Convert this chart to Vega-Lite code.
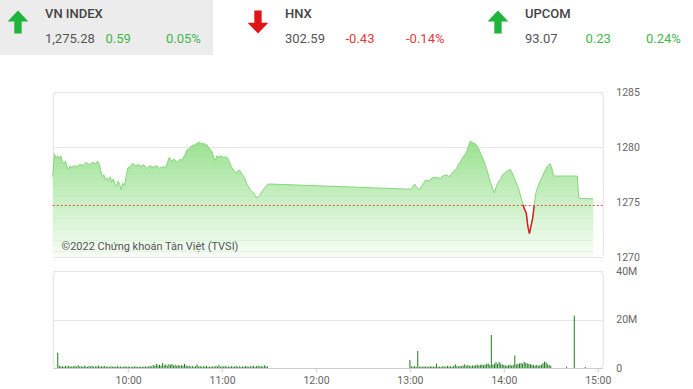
{
"$schema": "https://vega.github.io/schema/vega-lite/v6.json",
"padding": 0,
"background": "white",
"config": {"font": "Roboto", "view": {"stroke": null}},
"datasets": {
"header": [
{"idx":"VN INDEX","kind":"main","line":"top","text":"VN INDEX","dir":"up","tone":"label"},
{"idx":"VN INDEX","kind":"main","line":"bottom","text":"1,275.28","tone":"value"},
{"idx":"VN INDEX","kind":"change","line":"bottom","text":"0.59","tone":"up"},
{"idx":"VN INDEX","kind":"pct","line":"bottom","text":"0.05%","tone":"up"},
{"idx":"HNX","kind":"main","line":"top","text":"HNX","dir":"down","tone":"label"},
{"idx":"HNX","kind":"main","line":"bottom","text":"302.59","tone":"value"},
{"idx":"HNX","kind":"change","line":"bottom","text":"-0.43","tone":"down"},
{"idx":"HNX","kind":"pct","line":"bottom","text":"-0.14%","tone":"down"},
{"idx":"UPCOM","kind":"main","line":"top","text":"UPCOM","dir":"up","tone":"label"},
{"idx":"UPCOM","kind":"main","line":"bottom","text":"93.07","tone":"value"},
{"idx":"UPCOM","kind":"change","line":"bottom","text":"0.23","tone":"up"},
{"idx":"UPCOM","kind":"pct","line":"bottom","text":"0.24%","tone":"up"}
],
"fade": [
{"lo":1270.0,"hi":1270.5},{"lo":1270.5,"hi":1271.0},{"lo":1271.0,"hi":1271.5},{"lo":1271.5,"hi":1272.0},{"lo":1272.0,"hi":1272.5},{"lo":1272.5,"hi":1273.0},{"lo":1273.0,"hi":1273.5},{"lo":1273.5,"hi":1274.0},{"lo":1274.0,"hi":1274.5},{"lo":1274.5,"hi":1275.0},{"lo":1275.0,"hi":1275.5},{"lo":1275.5,"hi":1276.0},{"lo":1276.0,"hi":1276.5},{"lo":1276.5,"hi":1277.0},{"lo":1277.0,"hi":1277.5},{"lo":1277.5,"hi":1278.0},{"lo":1278.0,"hi":1278.5},{"lo":1278.5,"hi":1279.0},{"lo":1279.0,"hi":1279.5},{"lo":1279.5,"hi":1280.0}
],
"price": [
{"t":"09:15","v":1277.3,"r":0},{"t":"09:16","v":1279.4,"r":0},{"t":"09:17","v":1279.0,"r":0},{"t":"09:18","v":1279.2,"r":0},{"t":"09:19","v":1278.9,"r":0},{"t":"09:20","v":1279.2,"r":0},{"t":"09:21","v":1278.7,"r":0},{"t":"09:22","v":1278.5,"r":0},{"t":"09:23","v":1278.7,"r":0},{"t":"09:24","v":1278.2,"r":0},{"t":"09:25","v":1277.96,"r":0},{"t":"09:26","v":1278.3,"r":0},{"t":"09:27","v":1278.1,"r":0},{"t":"09:28","v":1278.3,"r":0},{"t":"09:30","v":1278.2,"r":0},{"t":"09:32","v":1278.4,"r":0},{"t":"09:34","v":1278.3,"r":0},{"t":"09:36","v":1278.6,"r":0},{"t":"09:38","v":1278.4,"r":0},{"t":"09:40","v":1278.6,"r":0},{"t":"09:42","v":1278.5,"r":0},{"t":"09:43","v":1278.7,"r":0},{"t":"09:44","v":1278.5,"r":0},{"t":"09:45","v":1278.0,"r":0},{"t":"09:46","v":1277.3,"r":0},{"t":"09:47","v":1277.5,"r":0},{"t":"09:48","v":1277.0,"r":0},{"t":"09:49","v":1277.2,"r":0},{"t":"09:50","v":1276.9,"r":0},{"t":"09:51","v":1277.3,"r":0},{"t":"09:52","v":1276.8,"r":0},{"t":"09:53","v":1277.1,"r":0},{"t":"09:54","v":1276.6,"r":0},{"t":"09:55","v":1276.4,"r":0},{"t":"09:56","v":1276.9,"r":0},{"t":"09:57","v":1276.6,"r":0},{"t":"09:58","v":1276.1,"r":0},{"t":"09:59","v":1276.7,"r":0},{"t":"10:00","v":1276.5,"r":0},{"t":"10:01","v":1277.3,"r":0},{"t":"10:02","v":1278.05,"r":0},{"t":"10:04","v":1278.3,"r":0},{"t":"10:05","v":1278.5,"r":0},{"t":"10:07","v":1278.3,"r":0},{"t":"10:09","v":1278.4,"r":0},{"t":"10:10","v":1278.2,"r":0},{"t":"10:12","v":1278.4,"r":0},{"t":"10:14","v":1278.05,"r":0},{"t":"10:16","v":1278.3,"r":0},{"t":"10:18","v":1278.15,"r":0},{"t":"10:20","v":1278.3,"r":0},{"t":"10:22","v":1278.05,"r":0},{"t":"10:24","v":1278.2,"r":0},{"t":"10:26","v":1278.15,"r":0},{"t":"10:27","v":1278.6,"r":0},{"t":"10:28","v":1279.05,"r":0},{"t":"10:30","v":1278.7,"r":0},{"t":"10:31","v":1278.9,"r":0},{"t":"10:33","v":1278.6,"r":0},{"t":"10:35","v":1278.9,"r":0},{"t":"10:36","v":1278.8,"r":0},{"t":"10:38","v":1279.3,"r":0},{"t":"10:39","v":1279.7,"r":0},{"t":"10:41","v":1279.9,"r":0},{"t":"10:42","v":1280.1,"r":0},{"t":"10:44","v":1280.2,"r":0},{"t":"10:45","v":1280.3,"r":0},{"t":"10:47","v":1280.45,"r":0},{"t":"10:48","v":1280.3,"r":0},{"t":"10:50","v":1280.3,"r":0},{"t":"10:52","v":1280.15,"r":0},{"t":"10:53","v":1279.9,"r":0},{"t":"10:55","v":1279.55,"r":0},{"t":"10:56","v":1279.0,"r":0},{"t":"10:57","v":1278.8,"r":0},{"t":"10:58","v":1279.2,"r":0},{"t":"10:59","v":1279.1,"r":0},{"t":"11:00","v":1279.2,"r":0},{"t":"11:02","v":1279.05,"r":0},{"t":"11:04","v":1279.1,"r":0},{"t":"11:05","v":1278.9,"r":0},{"t":"11:06","v":1278.6,"r":0},{"t":"11:07","v":1278.2,"r":0},{"t":"11:09","v":1277.8,"r":0},{"t":"11:10","v":1277.6,"r":0},{"t":"11:11","v":1277.8,"r":0},{"t":"11:12","v":1277.9,"r":0},{"t":"11:14","v":1277.5,"r":0},{"t":"11:15","v":1277.3,"r":0},{"t":"11:17","v":1276.55,"r":0},{"t":"11:19","v":1276.1,"r":0},{"t":"11:21","v":1275.8,"r":0},{"t":"11:23","v":1275.35,"r":0},{"t":"11:25","v":1275.65,"r":0},{"t":"11:27","v":1276.1,"r":0},{"t":"11:30","v":1276.64,"r":0},
{"t":"13:00","v":1276.16,"r":0},{"t":"13:02","v":1276.64,"r":0},{"t":"13:03","v":1276.4,"r":0},{"t":"13:05","v":1276.1,"r":0},{"t":"13:07","v":1276.6,"r":0},{"t":"13:09","v":1277.0,"r":0},{"t":"13:11","v":1276.9,"r":0},{"t":"13:13","v":1277.2,"r":0},{"t":"13:16","v":1277.24,"r":0},{"t":"13:18","v":1277.1,"r":0},{"t":"13:20","v":1277.4,"r":0},{"t":"13:22","v":1277.45,"r":0},{"t":"13:24","v":1277.3,"r":0},{"t":"13:26","v":1277.75,"r":0},{"t":"13:28","v":1278.0,"r":0},{"t":"13:30","v":1278.5,"r":0},{"t":"13:32","v":1279.0,"r":0},{"t":"13:34","v":1279.4,"r":0},{"t":"13:35","v":1279.7,"r":0},{"t":"13:36","v":1280.2,"r":0},{"t":"13:37","v":1280.54,"r":0},{"t":"13:38","v":1280.4,"r":0},{"t":"13:40","v":1280.3,"r":0},{"t":"13:42","v":1279.9,"r":0},{"t":"13:43","v":1279.55,"r":0},{"t":"13:45","v":1278.9,"r":0},{"t":"13:46","v":1278.5,"r":0},{"t":"13:48","v":1277.6,"r":0},{"t":"13:49","v":1277.0,"r":0},{"t":"13:51","v":1276.2,"r":0},{"t":"13:52","v":1275.8,"r":0},{"t":"13:53","v":1276.3,"r":0},{"t":"13:54","v":1276.7,"r":0},{"t":"13:56","v":1277.1,"r":0},{"t":"13:57","v":1277.45,"r":0},{"t":"14:00","v":1277.8,"r":0},{"t":"14:02","v":1277.96,"r":0},{"t":"14:03","v":1277.7,"r":0},{"t":"14:05","v":1277.0,"r":0},{"t":"14:07","v":1276.3,"r":0},{"t":"14:08","v":1275.8,"r":0},
{"t":"14:10","v":1274.75,"r":1},{"t":"14:11","v":1274.3,"r":1},{"t":"14:12","v":1274.0,"r":1},{"t":"14:13","v":1272.8,"r":1},{"t":"14:14","v":1272.13,"r":1},{"t":"14:15","v":1272.8,"r":1},{"t":"14:16","v":1273.5,"r":1},{"t":"14:17","v":1274.66,"r":1},
{"t":"14:18","v":1275.8,"r":0},{"t":"14:20","v":1276.7,"r":0},{"t":"14:22","v":1277.3,"r":0},{"t":"14:24","v":1277.9,"r":0},{"t":"14:25","v":1278.2,"r":0},{"t":"14:27","v":1278.5,"r":0},{"t":"14:28","v":1278.1,"r":0},{"t":"14:29","v":1277.45,"r":0},{"t":"14:30","v":1277.36,"r":0},{"t":"14:44","v":1277.36,"r":0},{"t":"14:45","v":1275.35,"r":0},{"t":"14:54","v":1275.28,"r":0}
],
"vol": [
{"t":"09:15","v":6.3},{"t":"09:16","v":0.9},{"t":"09:17","v":0.6},{"t":"09:18","v":0.7},{"t":"09:19","v":0.5},{"t":"09:20","v":0.8},{"t":"09:21","v":0.6},{"t":"09:22","v":0.9},{"t":"09:23","v":0.5},{"t":"09:24","v":0.7},{"t":"09:25","v":0.6},{"t":"09:26","v":0.8},{"t":"09:27","v":0.5},{"t":"09:28","v":1.1},{"t":"09:29","v":0.6},{"t":"09:30","v":0.7},{"t":"09:31","v":0.5},{"t":"09:32","v":0.9},{"t":"09:33","v":0.6},{"t":"09:34","v":0.4},{"t":"09:35","v":0.8},{"t":"09:36","v":0.6},{"t":"09:37","v":0.9},{"t":"09:38","v":0.5},{"t":"09:39","v":0.7},{"t":"09:40","v":0.6},{"t":"09:41","v":1.0},{"t":"09:42","v":0.5},{"t":"09:43","v":0.7},{"t":"09:44","v":0.6},{"t":"09:45","v":0.8},{"t":"09:46","v":0.5},{"t":"09:47","v":0.6},{"t":"09:48","v":0.4},{"t":"09:49","v":0.7},{"t":"09:50","v":0.5},{"t":"09:51","v":0.6},{"t":"09:52","v":0.4},{"t":"09:53","v":0.9},{"t":"09:54","v":0.5},{"t":"09:55","v":0.6},{"t":"09:56","v":0.4},{"t":"09:57","v":0.5},{"t":"09:58","v":0.7},{"t":"09:59","v":0.4},
{"t":"10:00","v":0.6},{"t":"10:01","v":0.5},{"t":"10:02","v":0.4},{"t":"10:03","v":0.6},{"t":"10:04","v":0.5},{"t":"10:05","v":0.7},{"t":"10:06","v":0.4},{"t":"10:07","v":0.5},{"t":"10:08","v":0.6},{"t":"10:09","v":0.4},{"t":"10:10","v":0.5},{"t":"10:11","v":0.7},{"t":"10:12","v":0.5},{"t":"10:13","v":0.6},{"t":"10:14","v":0.8},{"t":"10:15","v":0.6},{"t":"10:16","v":1.2},{"t":"10:17","v":0.9},{"t":"10:18","v":1.6},{"t":"10:19","v":1.0},{"t":"10:20","v":1.3},{"t":"10:21","v":0.9},{"t":"10:22","v":2.1},{"t":"10:23","v":1.1},{"t":"10:24","v":1.4},{"t":"10:25","v":0.9},{"t":"10:26","v":1.5},{"t":"10:27","v":1.2},{"t":"10:28","v":1.7},{"t":"10:29","v":1.0},{"t":"10:30","v":1.3},{"t":"10:31","v":0.9},{"t":"10:32","v":1.2},{"t":"10:33","v":0.8},{"t":"10:34","v":1.1},{"t":"10:35","v":0.9},{"t":"10:36","v":1.8},{"t":"10:37","v":1.0},{"t":"10:38","v":0.7},{"t":"10:39","v":0.9},{"t":"10:40","v":0.6},{"t":"10:41","v":0.8},{"t":"10:42","v":0.5},{"t":"10:43","v":0.7},{"t":"10:44","v":1.4},{"t":"10:45","v":0.6},{"t":"10:46","v":0.8},{"t":"10:47","v":0.5},{"t":"10:48","v":0.7},{"t":"10:49","v":0.6},{"t":"10:50","v":0.9},{"t":"10:51","v":0.5},{"t":"10:52","v":0.6},{"t":"10:53","v":0.4},{"t":"10:54","v":0.7},{"t":"10:55","v":0.5},{"t":"10:56","v":0.8},{"t":"10:57","v":0.6},{"t":"10:58","v":1.2},{"t":"10:59","v":0.5},
{"t":"11:00","v":0.7},{"t":"11:01","v":0.6},{"t":"11:02","v":0.8},{"t":"11:03","v":0.5},{"t":"11:04","v":0.6},{"t":"11:05","v":0.4},{"t":"11:06","v":0.7},{"t":"11:07","v":0.5},{"t":"11:08","v":0.6},{"t":"11:09","v":0.8},{"t":"11:10","v":0.5},{"t":"11:11","v":0.7},{"t":"11:12","v":0.4},{"t":"11:13","v":0.6},{"t":"11:14","v":0.5},{"t":"11:15","v":0.8},{"t":"11:16","v":0.6},{"t":"11:17","v":0.5},{"t":"11:18","v":0.7},{"t":"11:19","v":0.6},{"t":"11:20","v":0.9},{"t":"11:21","v":0.5},{"t":"11:22","v":0.7},{"t":"11:23","v":1.0},{"t":"11:24","v":0.6},{"t":"11:25","v":0.8},{"t":"11:26","v":0.5},{"t":"11:27","v":1.1},{"t":"11:28","v":0.7},{"t":"11:29","v":0.6},
{"t":"13:00","v":3.3},{"t":"13:01","v":0.6},{"t":"13:02","v":0.5},{"t":"13:03","v":0.8},{"t":"13:04","v":0.4},{"t":"13:05","v":7.0},{"t":"13:06","v":0.5},{"t":"13:07","v":0.6},{"t":"13:08","v":0.4},{"t":"13:09","v":0.7},{"t":"13:10","v":0.5},{"t":"13:11","v":0.6},{"t":"13:12","v":0.4},{"t":"13:13","v":0.8},{"t":"13:14","v":0.5},{"t":"13:15","v":0.6},{"t":"13:16","v":0.5},{"t":"13:17","v":1.9},{"t":"13:18","v":0.5},{"t":"13:19","v":0.6},{"t":"13:20","v":0.4},{"t":"13:21","v":0.7},{"t":"13:22","v":0.6},{"t":"13:23","v":0.5},{"t":"13:24","v":0.8},{"t":"13:25","v":0.6},{"t":"13:26","v":0.7},{"t":"13:27","v":0.5},{"t":"13:28","v":0.9},{"t":"13:29","v":1.5},{"t":"13:30","v":0.7},{"t":"13:31","v":0.6},{"t":"13:32","v":0.9},{"t":"13:33","v":0.7},{"t":"13:34","v":1.0},{"t":"13:35","v":1.5},{"t":"13:36","v":0.8},{"t":"13:37","v":1.2},{"t":"13:38","v":0.9},{"t":"13:39","v":0.7},{"t":"13:40","v":1.0},{"t":"13:41","v":0.8},{"t":"13:42","v":1.1},{"t":"13:43","v":1.3},{"t":"13:44","v":1.0},{"t":"13:45","v":1.2},{"t":"13:46","v":1.4},{"t":"13:47","v":1.1},{"t":"13:48","v":1.3},{"t":"13:49","v":1.6},{"t":"13:50","v":1.9},{"t":"13:51","v":1.2},{"t":"13:52","v":13.6},{"t":"13:53","v":1.4},{"t":"13:54","v":1.8},{"t":"13:55","v":2.5},{"t":"13:56","v":1.6},{"t":"13:57","v":2.5},{"t":"13:58","v":1.9},{"t":"13:59","v":1.4},
{"t":"14:00","v":1.2},{"t":"14:01","v":1.0},{"t":"14:02","v":0.9},{"t":"14:03","v":1.1},{"t":"14:04","v":1.3},{"t":"14:05","v":1.0},{"t":"14:06","v":1.2},{"t":"14:07","v":5.2},{"t":"14:08","v":1.4},{"t":"14:09","v":1.6},{"t":"14:10","v":1.9},{"t":"14:11","v":2.1},{"t":"14:12","v":1.8},{"t":"14:13","v":2.5},{"t":"14:14","v":2.2},{"t":"14:15","v":1.9},{"t":"14:16","v":1.7},{"t":"14:17","v":1.5},{"t":"14:18","v":1.3},{"t":"14:19","v":1.1},{"t":"14:20","v":1.0},{"t":"14:21","v":1.2},{"t":"14:22","v":0.9},{"t":"14:23","v":1.1},{"t":"14:24","v":1.3},{"t":"14:25","v":2.0},{"t":"14:26","v":2.7},{"t":"14:27","v":2.3},{"t":"14:28","v":1.5},{"t":"14:29","v":1.2},{"t":"14:30","v":0.9},{"t":"14:40","v":0.5},{"t":"14:45","v":21.7},{"t":"14:52","v":0.4}
]
},
"center": true,
"spacing": 31,
"vconcat": [
{
"spacing": 27,
"hconcat": [
{"width": 213, "height": 55, "view": {"fill": "#ececec", "stroke": null}, "data": {"name": "header"},
 "transform": [{"filter": "datum.idx == 'VN INDEX'"}],
 "encoding": {
   "x": {"field": "kind", "type": "nominal", "scale": {"type": "point", "domain": ["main", "change", "pct"], "range": [45, 166], "padding": 0}, "axis": null},
   "y": {"field": "line", "type": "nominal", "scale": {"type": "point", "domain": ["top", "bottom"], "range": [14, 39], "padding": 0}, "axis": null}
 },
 "layer": [
  {"transform": [{"filter": "datum.line == 'top'"}], "mark": {"type": "point", "filled": true, "size": 529, "opacity": 1, "strokeWidth": 0},
   "encoding": {"shape": {"field": "dir", "type": "nominal", "scale": {"domain": ["up", "down"], "range": ["M-2.35,-0.3L-1.45,0.65L-2.03,0.65L-2.03,1.7L-2.67,1.7L-2.67,0.65L-3.25,0.65Z", "M-2.35,1.7L-1.45,0.75L-2.03,0.75L-2.03,-0.3L-2.67,-0.3L-2.67,0.75L-3.25,0.75Z"]}, "legend": null},
     "fill": {"field": "dir", "type": "nominal", "scale": {"domain": ["up", "down"], "range": ["#1fb43a", "#e01414"]}, "legend": null}}},
  {"transform": [{"filter": "datum.line == 'top'"}], "mark": {"type": "text", "align": "left", "baseline": "middle", "fontSize": 13, "fontWeight": 500, "color": "#444444"},
   "encoding": {"text": {"field": "text"}}},
  {"transform": [{"filter": "datum.line == 'bottom'"}], "mark": {"type": "text", "align": "left", "baseline": "middle", "fontSize": 13},
   "encoding": {"text": {"field": "text"}, "color": {"field": "tone", "type": "nominal", "scale": {"domain": ["label", "value", "up", "down"], "range": ["#444444", "#555555", "#42b84a", "#e23b3b"]}, "legend": null}}}
 ]},
{"width": 213, "height": 55, "view": {"stroke": null}, "data": {"name": "header"},
 "transform": [{"filter": "datum.idx == 'HNX'"}],
 "encoding": {
   "x": {"field": "kind", "type": "nominal", "scale": {"type": "point", "domain": ["main", "change", "pct"], "range": [45, 166], "padding": 0}, "axis": null},
   "y": {"field": "line", "type": "nominal", "scale": {"type": "point", "domain": ["top", "bottom"], "range": [14, 39], "padding": 0}, "axis": null}
 },
 "layer": [
  {"transform": [{"filter": "datum.line == 'top'"}], "mark": {"type": "point", "filled": true, "size": 529, "opacity": 1, "strokeWidth": 0},
   "encoding": {"shape": {"field": "dir", "type": "nominal", "scale": {"domain": ["up", "down"], "range": ["M-2.35,-0.3L-1.45,0.65L-2.03,0.65L-2.03,1.7L-2.67,1.7L-2.67,0.65L-3.25,0.65Z", "M-2.35,1.7L-1.45,0.75L-2.03,0.75L-2.03,-0.3L-2.67,-0.3L-2.67,0.75L-3.25,0.75Z"]}, "legend": null},
     "fill": {"field": "dir", "type": "nominal", "scale": {"domain": ["up", "down"], "range": ["#1fb43a", "#e01414"]}, "legend": null}}},
  {"transform": [{"filter": "datum.line == 'top'"}], "mark": {"type": "text", "align": "left", "baseline": "middle", "fontSize": 13, "fontWeight": 500, "color": "#444444"},
   "encoding": {"text": {"field": "text"}}},
  {"transform": [{"filter": "datum.line == 'bottom'"}], "mark": {"type": "text", "align": "left", "baseline": "middle", "fontSize": 13},
   "encoding": {"text": {"field": "text"}, "color": {"field": "tone", "type": "nominal", "scale": {"domain": ["label", "value", "up", "down"], "range": ["#444444", "#555555", "#42b84a", "#e23b3b"]}, "legend": null}}}
 ]},
{"width": 213, "height": 55, "view": {"stroke": null}, "data": {"name": "header"},
 "transform": [{"filter": "datum.idx == 'UPCOM'"}],
 "encoding": {
   "x": {"field": "kind", "type": "nominal", "scale": {"type": "point", "domain": ["main", "change", "pct"], "range": [45, 166], "padding": 0}, "axis": null},
   "y": {"field": "line", "type": "nominal", "scale": {"type": "point", "domain": ["top", "bottom"], "range": [14, 39], "padding": 0}, "axis": null}
 },
 "layer": [
  {"transform": [{"filter": "datum.line == 'top'"}], "mark": {"type": "point", "filled": true, "size": 529, "opacity": 1, "strokeWidth": 0},
   "encoding": {"shape": {"field": "dir", "type": "nominal", "scale": {"domain": ["up", "down"], "range": ["M-2.35,-0.3L-1.45,0.65L-2.03,0.65L-2.03,1.7L-2.67,1.7L-2.67,0.65L-3.25,0.65Z", "M-2.35,1.7L-1.45,0.75L-2.03,0.75L-2.03,-0.3L-2.67,-0.3L-2.67,0.75L-3.25,0.75Z"]}, "legend": null},
     "fill": {"field": "dir", "type": "nominal", "scale": {"domain": ["up", "down"], "range": ["#1fb43a", "#e01414"]}, "legend": null}}},
  {"transform": [{"filter": "datum.line == 'top'"}], "mark": {"type": "text", "align": "left", "baseline": "middle", "fontSize": 13, "fontWeight": 500, "color": "#444444"},
   "encoding": {"text": {"field": "text"}}},
  {"transform": [{"filter": "datum.line == 'bottom'"}], "mark": {"type": "text", "align": "left", "baseline": "middle", "fontSize": 13},
   "encoding": {"text": {"field": "text"}, "color": {"field": "tone", "type": "nominal", "scale": {"domain": ["label", "value", "up", "down"], "range": ["#444444", "#555555", "#42b84a", "#e23b3b"]}, "legend": null}}}
 ]}
]
},
{
"spacing": 2,
"vconcat": [
{
"width": 550,
"height": 165,
"view": {"stroke": "#e0e0e0", "cornerRadius": 4},
"data": {"name": "price", "format": {"parse": {"t": "date:'%H:%M'"}}},
"layer": [
  {"mark": {"type": "area", "clip": true, "color": "#9ce293"},
   "encoding": {
     "x": {"field": "t", "type": "temporal", "scale": {"domain": [{"year": 1900, "month": 1, "date": 1, "hours": 9, "minutes": 15}, {"year": 1900, "month": 1, "date": 1, "hours": 15, "minutes": 0}]}, "axis": null},
     "y": {"field": "v", "type": "quantitative", "scale": {"domain": [1270, 1285], "zero": false, "nice": false}, "axis": {"orient": "right", "values": [1270, 1275, 1280, 1285], "format": "d", "ticks": false, "domain": false, "grid": true, "gridColor": "#e6e6e6", "labelPadding": 13, "minExtent": 37, "maxExtent": 37, "title": null, "labelColor": "#666666", "labelFontSize": 10.5}}
   }},
  {"data": {"name": "fade"},
   "mark": {"type": "rect", "color": "white", "strokeWidth": 0},
   "encoding": {
     "x": {"datum": {"year": 1900, "month": 1, "date": 1, "hours": 9, "minutes": 15}},
     "x2": {"datum": {"year": 1900, "month": 1, "date": 1, "hours": 15, "minutes": 0}},
     "y": {"field": "lo", "type": "quantitative"},
     "y2": {"field": "hi"},
     "opacity": {"field": "lo", "type": "quantitative", "scale": {"domain": [1270, 1280], "range": [0.9, 0.02]}, "legend": null}
   }},
  {"mark": {"type": "line", "color": "#86d67b", "strokeWidth": 1},
   "encoding": {
     "x": {"field": "t", "type": "temporal"},
     "y": {"field": "v", "type": "quantitative"}
   }},
  {"transform": [{"filter": "datum.r == 1"}],
   "mark": {"type": "line", "color": "#d81e1e", "strokeWidth": 1.5},
   "encoding": {
     "x": {"field": "t", "type": "temporal"},
     "y": {"field": "v", "type": "quantitative"}
   }},
  {"data": {"values": [{}]},
   "mark": {"type": "rule", "color": "#c9553b", "strokeDash": [2, 2], "strokeWidth": 1},
   "encoding": {"y": {"datum": 1274.69}}},
  {"data": {"values": [{}]},
   "mark": {"type": "text", "align": "left", "baseline": "middle", "fontSize": 11, "color": "#555555"},
   "encoding": {
     "x": {"datum": {"year": 1900, "month": 1, "date": 1, "hours": 9, "minutes": 20, "seconds": 30}},
     "y": {"datum": 1270.9},
     "text": {"value": "©2022 Chứng khoán Tân Việt (TVSI)"}
   }}
]
},
{
"width": 550,
"height": 97,
"view": {"stroke": "#e0e0e0", "cornerRadius": 4},
"data": {"name": "vol", "format": {"parse": {"t": "date:'%H:%M'"}}},
"mark": {"type": "bar", "width": 1, "color": "#1d7d1d"},
"encoding": {
  "x": {"field": "t", "type": "temporal", "scale": {"domain": [{"year": 1900, "month": 1, "date": 1, "hours": 9, "minutes": 15}, {"year": 1900, "month": 1, "date": 1, "hours": 15, "minutes": 0}]},
        "axis": {"values": [{"year": 1900, "month": 1, "date": 1, "hours": 10}, {"year": 1900, "month": 1, "date": 1, "hours": 11}, {"year": 1900, "month": 1, "date": 1, "hours": 12}, {"year": 1900, "month": 1, "date": 1, "hours": 13}, {"year": 1900, "month": 1, "date": 1, "hours": 14}, {"year": 1900, "month": 1, "date": 1, "hours": 15}], "format": "%H:%M", "labelFlush": false, "grid": false, "domainColor": "#cccccc", "tickColor": "#cccccc", "tickSize": 4, "labelPadding": 3, "title": null, "labelColor": "#666666", "labelFontSize": 10.5}},
  "y": {"field": "v", "type": "quantitative", "scale": {"domain": [0, 40]}, "axis": {"orient": "right", "values": [0, 20, 40], "labelExpr": "datum.value == 0 ? '0' : datum.value + 'M'", "ticks": false, "domain": false, "grid": true, "gridColor": "#e6e6e6", "labelPadding": 13, "minExtent": 37, "maxExtent": 37, "title": null, "labelColor": "#666666", "labelFontSize": 10.5}}
}
}
]
}
]
}
